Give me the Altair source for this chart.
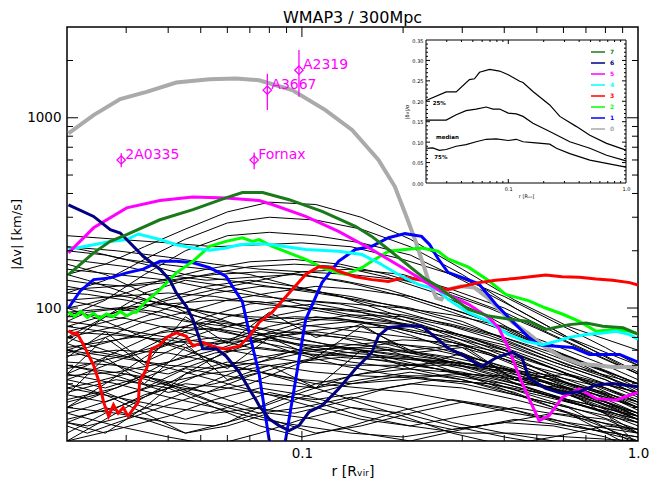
import altair as alt
import pandas as pd

W, H = 571, 414
FONT = "DejaVu Sans"
MAG = "#ff00ff"

# ---------------- coloured profiles (r in R_vir, |dv| in km/s) ----------------
gray_r = [0.0202, 0.024, 0.0288, 0.0345, 0.0423, 0.0531, 0.0637, 0.0746, 0.0936, 0.1175, 0.141, 0.169, 0.189,
          0.205, 0.217, 0.227, 0.2375, 0.251, 0.26, 0.272, 0.298, 0.326, 0.3575, 0.383, 0.42, 0.474, 0.531,
          0.595, 0.669, 0.752, 0.84, 1.0]
gray_v = [828, 1033, 1253, 1368, 1531, 1596, 1607, 1575, 1397, 1097, 863, 600, 435,
          300, 229, 180, 141, 113, 111, 125, 130, 128, 113, 100, 85, 73, 62,
          55, 51, 50, 49, 49]

blue_r = [0.0202, 0.0219, 0.024, 0.0269, 0.0301, 0.0337, 0.0378, 0.0423, 0.0474, 0.0531, 0.0594, 0.064, 0.0665,
          0.0697, 0.0746, 0.0798, 0.084, 0.0895, 0.0958, 0.1026, 0.1148, 0.1285, 0.1442, 0.1614, 0.181, 0.2027,
          0.227, 0.24, 0.254, 0.272, 0.299, 0.336, 0.377, 0.423, 0.474, 0.508, 0.57, 0.64, 0.717, 0.804, 0.882, 1.0]
blue_v = [100, 123, 141, 144, 153, 160, 176, 176, 173, 163, 147, 120, 108,
          74, 45, 20.5, 15, 20.5, 42, 87, 136, 176, 203, 211, 234, 246,
          238, 215, 182, 154, 145, 134, 105, 85, 70, 64, 63, 62, 57, 57, 57, 52]

green_r = [0.0202, 0.021, 0.022, 0.023, 0.024, 0.025, 0.0262, 0.0275, 0.0288, 0.0301, 0.0315, 0.0322, 0.0337,
           0.0378, 0.0423, 0.0474, 0.0531, 0.0594, 0.0665, 0.0713, 0.0746, 0.0816, 0.1026, 0.1175, 0.1346,
           0.1509, 0.1614, 0.181, 0.2027, 0.227, 0.254, 0.272, 0.313, 0.36, 0.404, 0.474, 0.531, 0.595, 0.669,
           0.751, 0.84, 0.945, 1.0]
green_v = [95, 90, 96, 89, 94, 88, 93, 90, 96, 91, 95, 95, 105,
           125, 153, 176, 211, 224, 234, 224, 229, 211, 180, 160, 150,
           163, 176, 199, 203, 207, 199, 181, 164, 139, 118, 109, 100, 93, 85,
           75.5, 77, 75.5, 73]

red_r = [0.0202, 0.0209, 0.0214, 0.0224, 0.024, 0.0249, 0.0257, 0.0266, 0.0275, 0.0284, 0.0294, 0.0304, 0.0315,
         0.0326, 0.0329, 0.0345, 0.0357, 0.0378, 0.0395, 0.0423, 0.0453, 0.0474, 0.0507, 0.0556, 0.0594, 0.0651,
         0.0697, 0.0746, 0.0816, 0.0916, 0.1026, 0.1123, 0.1229, 0.1285, 0.1442, 0.1614, 0.181, 0.2027, 0.227,
         0.254, 0.272, 0.3, 0.336, 0.377, 0.43, 0.531, 0.595, 0.669, 0.751, 0.84, 0.945, 1.0]
red_v = [76, 73, 74, 64, 50, 41, 32, 27, 31, 28, 30, 27, 29.5,
         32, 41, 48, 61, 64, 70, 74, 71, 63, 66, 62, 61, 63,
         71, 84, 95, 120, 150, 165, 163, 156, 146, 141, 138, 145, 140,
         128, 125, 130, 136, 140, 143, 149, 146, 145, 142, 140, 136, 132]

cyan_r = [0.0202, 0.024, 0.0269, 0.0301, 0.0326, 0.0378, 0.0423, 0.0474, 0.0531, 0.0594, 0.0651, 0.0746, 0.0816,
          0.1026, 0.1285, 0.1509, 0.169, 0.1936, 0.222, 0.233, 0.254, 0.272, 0.313, 0.36, 0.412, 0.463, 0.52,
          0.57, 0.624, 0.701, 0.786, 0.861, 0.945, 1.0]
cyan_v = [203, 215, 224, 229, 245, 229, 215, 207, 201, 207, 215, 218, 215,
          203, 199, 191, 173, 150, 133, 130, 125, 111, 94.5, 85, 72.5, 66.8, 64.2,
          66.8, 70.1, 72.5, 74, 75.5, 72.5, 68.5]

magenta_r = [0.0202, 0.024, 0.0301, 0.0378, 0.0473, 0.0594, 0.0651, 0.0746, 0.0816, 0.1026, 0.1285, 0.1614,
             0.2027, 0.254, 0.272, 0.313, 0.36, 0.385, 0.412, 0.442, 0.474, 0.508, 0.544, 0.596, 0.669, 0.751,
             0.861, 0.945, 1.0]
magenta_v = [195, 264, 336, 367, 383, 379, 374, 367, 350, 303, 253, 203,
             160, 125, 118, 104.6, 89, 78.7, 61.5, 44.4, 33.4, 25.6, 27.2, 34, 37.5, 33.4,
             32.8, 34.9, 36]

navy_r = [0.0202, 0.024, 0.0269, 0.0288, 0.0301, 0.0337, 0.0378, 0.0404, 0.0423, 0.0453, 0.0474, 0.0507, 0.0556,
          0.0594, 0.0651, 0.0697, 0.0729, 0.0746, 0.0798, 0.0855, 0.0916, 0.098, 0.105, 0.1148, 0.1285, 0.1442,
          0.1614, 0.169, 0.181, 0.2027, 0.227, 0.254, 0.272, 0.299, 0.343, 0.377, 0.423, 0.452, 0.474, 0.531,
          0.595, 0.669, 0.751, 0.84, 0.945, 1.0]
navy_v = [348, 303, 258, 248, 229, 187, 160, 141, 120, 102, 87, 61, 61,
          56, 46, 37.5, 33, 30.7, 26.2, 24.1, 22.7, 24.1, 28.4, 30.7, 37.5, 47.8,
          58.4, 71.3, 79, 80.5, 80.5, 68.5, 61.6, 56.8, 49.2, 54.6, 58.6, 54.6, 42.7, 37.8,
          35.5, 36.3, 39.4, 40.1, 39, 38.6]

dkgreen_r = [0.0202, 0.024, 0.0269, 0.0301, 0.0378, 0.0474, 0.0594, 0.0665, 0.0764, 0.0916, 0.1148, 0.1442,
             0.1614, 0.181, 0.2027, 0.227, 0.233, 0.254, 0.272, 0.313, 0.36, 0.423, 0.474, 0.531, 0.624, 0.701,
             0.786, 0.903, 1.0]
dkgreen_v = [150, 195, 224, 243, 291, 329, 379, 405, 405, 371, 322, 269,
             238, 203, 173, 147, 142, 130, 118, 98.4, 90.7, 87, 85, 77.1, 81.8, 83.5,
             80.2, 78.7, 73]

series_names = ["0", "1", "2", "3", "4", "5", "6", "7"]
series_colors = ["#aaaaaa", "#0000ff", "#00ff00", "#ff0000", "#00ffff", "#ff00ff", "#000080", "#1a7a1a"]
series_widths = [4, 3, 3, 3, 3, 3, 3, 3]
series_data = [(gray_r, gray_v), (blue_r, blue_v), (green_r, green_v), (red_r, red_v),
               (cyan_r, cyan_v), (magenta_r, magenta_v), (navy_r, navy_v), (dkgreen_r, dkgreen_v)]

# ---------------- thin black profiles ----------------
grid_a = [0.02, 0.026, 0.034, 0.045, 0.06, 0.08, 0.11, 0.15, 0.21, 0.3, 0.43, 0.62, 1.0]
black_a = [
    [150, 170, 210, 260, 320, 360, 350, 300, 230, 160, 110, 80, 60],
    [120, 140, 180, 230, 280, 300, 290, 260, 210, 150, 100, 70, 50],
    [90, 110, 150, 200, 240, 250, 240, 220, 190, 140, 100, 70, 45],
    [60, 70, 85, 95, 110, 120, 130, 125, 115, 95, 75, 55, 40],
    [45, 70, 50, 90, 65, 95, 70, 82, 58, 62, 42, 45, 30],
    [30, 40, 55, 75, 90, 100, 105, 95, 80, 65, 50, 38, 28],
    [25, 22, 30, 45, 60, 70, 75, 70, 60, 50, 42, 35, 25],
    [80, 75, 70, 60, 50, 45, 40, 38, 36, 32, 28, 25, 22],
    [110, 100, 95, 85, 80, 90, 100, 95, 85, 70, 55, 40, 32],
    [55, 75, 52, 65, 42, 50, 38, 60, 48, 58, 40, 38, 26],
    [200, 190, 170, 150, 140, 130, 120, 110, 100, 85, 65, 50, 40],
    [40, 35, 28, 22, 25, 32, 40, 45, 48, 42, 35, 30, 19],
    [70, 90, 110, 100, 85, 70, 60, 55, 50, 46, 40, 32, 26],
    [130, 120, 110, 100, 92, 85, 80, 75, 70, 62, 52, 44, 36],
    [35, 55, 40, 62, 48, 70, 55, 80, 60, 64, 42, 36, 22],
    [22, 28, 35, 40, 38, 35, 33, 36, 40, 38, 33, 28, 18],
    [170, 150, 120, 95, 80, 72, 66, 60, 55, 48, 40, 33, 27],
    [20, 26, 34, 45, 52, 50, 46, 44, 43, 40, 35, 30, 25],
    [100, 85, 70, 62, 68, 80, 90, 85, 72, 58, 45, 35, 28],
    [65, 90, 120, 140, 130, 115, 100, 90, 82, 72, 58, 45, 36],
    [35, 32, 38, 48, 44, 40, 38, 42, 46, 42, 36, 28, 20],
    [32, 36, 30, 26, 30, 36, 32, 27, 24, 27, 30, 27, 23],
    [42, 38, 44, 36, 30, 26, 22, 24, 28, 32, 29, 24, 21],
    [25, 30, 26, 22, 24, 28, 26, 22, 20, 23, 26, 24, 21],
    [70, 60, 52, 46, 40, 35, 30, 26, 24, 22, 22, 21, 20],
]
grid_b = [0.02, 0.023, 0.03, 0.038, 0.052, 0.07, 0.095, 0.13, 0.18, 0.25, 0.36, 0.5, 0.72, 1.0]
black_b = [
    [100, 105, 120, 140, 160, 175, 180, 170, 150, 125, 100, 78, 58, 45],
    [65, 60, 55, 62, 75, 85, 90, 88, 80, 70, 58, 46, 36, 28],
    [140, 135, 130, 135, 150, 165, 170, 165, 145, 120, 90, 65, 48, 36],
    [50, 48, 45, 40, 36, 40, 50, 60, 65, 62, 52, 42, 33, 26],
    [85, 95, 100, 95, 80, 70, 65, 62, 58, 54, 48, 42, 34, 28],
    [30, 33, 40, 50, 62, 72, 75, 70, 60, 50, 40, 32, 26, 22],
    [45, 50, 62, 75, 85, 80, 70, 62, 55, 48, 42, 36, 30, 25],
    [180, 175, 165, 150, 140, 145, 150, 140, 125, 105, 85, 65, 50, 40],
    [38, 40, 45, 42, 36, 30, 28, 32, 38, 42, 40, 35, 30, 26],
    [75, 80, 90, 110, 130, 140, 130, 115, 95, 80, 64, 52, 40, 32],
    [25, 24, 27, 32, 40, 50, 60, 65, 62, 54, 45, 37, 30, 24],
    [120, 118, 110, 100, 88, 80, 74, 70, 66, 60, 52, 44, 36, 30],
    [58, 62, 70, 80, 78, 70, 58, 50, 45, 42, 40, 36, 31, 27],
    [95, 92, 88, 80, 70, 62, 58, 56, 55, 52, 47, 40, 33, 27],
    [42, 46, 55, 68, 90, 105, 110, 105, 92, 76, 60, 48, 38, 30],
    [28, 30, 35, 40, 45, 48, 52, 55, 53, 48, 41, 34, 28, 23],
    [210, 200, 180, 170, 160, 150, 130, 115, 100, 85, 72, 58, 46, 38],
    [24, 22, 26, 30, 36, 44, 52, 58, 60, 56, 48, 40, 32, 26],
    [150, 140, 120, 105, 95, 90, 88, 86, 80, 70, 58, 46, 37, 30],
]
grid_c = [0.02, 0.028, 0.04, 0.055, 0.075, 0.1, 0.14, 0.2, 0.28, 0.4, 0.56, 0.8, 1.0]
black_c = [
    [240, 230, 220, 210, 215, 220, 210, 180, 150, 115, 85, 62, 50],
    [70, 80, 100, 120, 130, 125, 115, 100, 85, 70, 56, 44, 37],
    [52, 50, 45, 55, 68, 80, 85, 82, 74, 62, 50, 40, 34],
    [110, 115, 120, 115, 105, 100, 98, 92, 82, 70, 58, 46, 38],
    [33, 38, 48, 58, 62, 58, 52, 48, 46, 43, 38, 32, 27],
    [160, 150, 140, 125, 115, 110, 105, 100, 92, 80, 64, 50, 42],
    [48, 55, 65, 70, 66, 60, 56, 54, 52, 48, 42, 35, 29],
    [85, 78, 70, 65, 68, 75, 80, 78, 70, 60, 48, 38, 32],
    [26, 30, 38, 48, 55, 60, 62, 60, 55, 48, 40, 32, 27],
    [62, 68, 75, 78, 72, 64, 58, 55, 52, 48, 44, 38, 33],
    [125, 130, 140, 150, 155, 150, 135, 115, 95, 76, 60, 47, 40],
    [38, 34, 30, 28, 30, 36, 44, 50, 52, 48, 40, 32, 27],
    [95, 100, 105, 110, 108, 100, 90, 82, 74, 64, 52, 42, 35],
    [56, 60, 58, 52, 46, 42, 40, 42, 45, 44, 40, 34, 30],
    [210, 200, 185, 170, 160, 155, 150, 140, 120, 95, 72, 54, 45],
    [44, 46, 52, 60, 72, 84, 92, 90, 80, 66, 52, 42, 35],
    [75, 72, 68, 62, 56, 52, 50, 50, 50, 47, 42, 36, 31],
    [30, 28, 25, 24, 28, 34, 40, 44, 44, 40, 34, 28, 19],
    [80, 95, 110, 125, 140, 155, 160, 150, 125, 100, 75, 56, 46],
    [60, 55, 50, 48, 52, 58, 64, 68, 66, 58, 48, 38, 32],
    [45, 40, 34, 30, 26, 24, 22, 21, 23, 25, 24, 21, 18],
    [28, 24, 21, 19, 22, 26, 30, 28, 24, 21, 19, 18, 17],
    [60, 50, 40, 32, 28, 30, 34, 30, 25, 22, 20, 19, 18],
    [36, 42, 38, 30, 24, 21, 24, 29, 33, 30, 26, 22, 20],
    [20, 23, 27, 33, 38, 35, 30, 26, 23, 25, 28, 26, 22],
    [50, 44, 36, 40, 46, 40, 33, 27, 22, 19, 21, 24, 23],
]

# ---------------- observed clusters ----------------
obs_name = ["2A0335", "Fornax", "A3667", "A2319"]
obs_r = [0.029, 0.0721, 0.0789, 0.098]
obs_v = [600, 600, 1397, 1779]
obs_lo = [550, 537, 1097, 1289]
obs_hi = [651, 656, 1705, 2268]

# ---------------- inset: |dv|/sigma percentiles ----------------
p25_r = [0.02, 0.0297, 0.0361, 0.0468, 0.0516, 0.057, 0.0693, 0.0844, 0.1, 0.125, 0.1334, 0.162, 0.225, 0.274,
         0.38, 0.493, 0.684, 1.0]
p25_v = [0.202, 0.223, 0.223, 0.253, 0.255, 0.271, 0.278, 0.274, 0.265, 0.249, 0.246, 0.224, 0.191, 0.163,
         0.138, 0.117, 0.097, 0.0805]
med_r = [0.02, 0.0297, 0.0361, 0.0438, 0.0533, 0.065, 0.074, 0.0844, 0.1, 0.117, 0.1334, 0.162, 0.225, 0.333,
         0.493, 0.684, 1.0]
med_v = [0.154, 0.154, 0.167, 0.177, 0.181, 0.186, 0.181, 0.181, 0.171, 0.169, 0.163, 0.146, 0.126, 0.101,
         0.085, 0.068, 0.054]
p75_r = [0.02, 0.0228, 0.026, 0.0297, 0.0361, 0.0438, 0.0533, 0.065, 0.079, 0.1, 0.117, 0.1334, 0.162, 0.225,
         0.2565, 0.333, 0.493, 0.684, 1.0]
p75_v = [0.085, 0.086, 0.080, 0.082, 0.090, 0.094, 0.101, 0.107, 0.108, 0.104, 0.107, 0.101, 0.099, 0.095,
         0.085, 0.072, 0.056, 0.048, 0.039]
inset_lab = ["25%", "median", "75%"]
inset_lab_r = [0.0228, 0.0243, 0.0235]
inset_lab_v = [0.195, 0.113, 0.064]

# ---------------- tick values ----------------
x_minor = [0.03, 0.04, 0.05, 0.06, 0.07, 0.08, 0.09, 0.2, 0.3, 0.4, 0.5, 0.6, 0.7, 0.8, 0.9]
x_major = [0.1]
y_minor = [30, 40, 50, 60, 70, 80, 90, 200, 300, 400, 500, 600, 700, 800, 900, 2000]
y_major = [100, 1000]
iy_minor = [round(0.01 * k, 2) for k in range(1, 35) if k % 5 != 0]
iy_major = [0.05, 0.10, 0.15, 0.20, 0.25, 0.30]
ix_minor = [0.03, 0.04, 0.05, 0.06, 0.07, 0.08, 0.09, 0.2, 0.3, 0.4, 0.5, 0.6, 0.7, 0.8, 0.9]

# ---------------- build tables ----------------
rows = []
for name, (rs, vs) in zip(series_names, series_data):
    for r, v in zip(rs, vs):
        rows.append({"s": name, "r": r, "v": v})
colored = pd.DataFrame(rows)

rows = []
lid = 0
for grid, lines in ((grid_a, black_a), (grid_b, black_b), (grid_c, black_c)):
    for vals in lines:
        for r, v in zip(grid, vals):
            rows.append({"id": lid, "r": r, "v": v})
        lid += 1
black = pd.DataFrame(rows)

obs = pd.DataFrame({"name": obs_name, "r": obs_r, "v": obs_v, "lo": obs_lo, "hi": obs_hi})

rows = []
for q, rs, vs in (("25", p25_r, p25_v), ("50", med_r, med_v), ("75", p75_r, p75_v)):
    for r, v in zip(rs, vs):
        rows.append({"q": q, "r": r, "v": v})
inset_df = pd.DataFrame(rows)
inset_labels = pd.DataFrame({"t": inset_lab, "r": inset_lab_r, "v": inset_lab_v})

# ---------------- scales ----------------
xs = alt.Scale(type="log", domain=[0.02, 1.0], nice=False)
ys = alt.Scale(type="log", domain=[20, 3000], nice=False)
IX0, IX1, IY0, IY1 = 359, 559, 156, 13
ixs = alt.Scale(type="log", domain=[0.02, 1.0], nice=False, range=[IX0, IX1])
iys = alt.Scale(domain=[0, 0.35], nice=False, zero=False, range=[IY0, IY1])


def X(f="r"):
    return alt.X(f"{f}:Q", scale=xs, axis=None)


def Y(f="v"):
    return alt.Y(f"{f}:Q", scale=ys, axis=None)


axis_common = dict(ticks=False, domain=False, grid=False, labelFont=FONT, titleFont=FONT,
                   titleFontWeight="normal", labelColor="black", titleColor="black", labelFlush=False)

black_layer = alt.Chart(black).mark_line(color="black", strokeWidth=1, clip=True).encode(
    x=alt.X("r:Q", scale=xs, axis=alt.Axis(orient="bottom", values=[0.1, 1.0], format=".1f",
                                            labelFontSize=13.5, labelPadding=5, title="r  [Rᵥᵢᵣ]",
                                            titleFontSize=14, titlePadding=5, **axis_common)),
    y=alt.Y("v:Q", scale=ys, axis=alt.Axis(orient="left", values=[100, 1000], format="d",
                                            labelFontSize=13.5, labelPadding=6, title="|Δv| [km/s]",
                                            titleFontSize=13, titlePadding=3, **axis_common)),
    detail="id:N",
)

label_expr = " : ".join(
    [f"datum.label == '{n}' ? '{c}'" for n, c in zip(series_names, series_colors)]
) + " : 'black'"
legend_order = series_names[::-1]
legend_colors = series_colors[::-1]
color_enc = alt.Color("s:N", scale=alt.Scale(domain=legend_order, range=legend_colors),
                      legend=alt.Legend(orient="none", legendX=523, legendY=17, title=None,
                                        symbolType="stroke", symbolSize=196, symbolStrokeWidth=1.5,
                                        labelFontSize=6, labelFont=FONT, labelFontWeight="bold",
                                        rowPadding=-3.7, labelOffset=4, padding=0,
                                        labelColor={"expr": label_expr}))

colored_layers = []
for name, w in zip(series_names, series_widths):
    colored_layers.append(
        alt.Chart(colored).transform_filter(alt.datum.s == name)
        .mark_line(strokeWidth=w, clip=True)
        .encode(x=X(), y=Y(), color=color_enc)
    )

err = alt.Chart(obs).mark_rule(color=MAG, strokeWidth=1.3).encode(x=X(), y=Y("lo"), y2="hi:Q")
pts = alt.Chart(obs).mark_point(shape="diamond", filled=False, size=70, color=MAG, strokeWidth=1.3,
                                opacity=1).encode(x=X(), y=Y())
txt = alt.Chart(obs).mark_text(align="left", baseline="alphabetic", dx=4, dy=-1, fontSize=14, font=FONT,
                               color=MAG).encode(x=X(), y=Y(), text="name:N")


def xticks(vals, length, scale, y0, inward):
    df = pd.DataFrame({"r": vals})
    return alt.Chart(df).mark_rule(color="black", strokeWidth=1).encode(
        x=alt.X("r:Q", scale=scale, axis=None), y=alt.value(y0), y2=alt.value(y0 + inward * length))


def yticks(vals, length, scale, x0, inward):
    df = pd.DataFrame({"v": vals})
    return alt.Chart(df).mark_rule(color="black", strokeWidth=1).encode(
        y=alt.Y("v:Q", scale=scale, axis=None), x=alt.value(x0), x2=alt.value(x0 + inward * length))


main_ticks = [
    xticks(x_minor, 6, xs, H, -1), xticks(x_major, 10, xs, H, -1),
    xticks(x_minor, 6, xs, 0, 1), xticks(x_major, 10, xs, 0, 1),
    yticks(y_minor, 6, ys, 0, 1), yticks(y_major, 11, ys, 0, 1),
    yticks(y_minor, 6, ys, W, -1), yticks(y_major, 11, ys, W, -1),
]

# ---------------- inset ----------------
frame_df = pd.DataFrame({"r": [0.02], "r2": [1.0], "v": [0.0], "v2": [0.35]})
frame = alt.Chart(frame_df).mark_rect(fill="white", stroke="black", strokeWidth=1).encode(
    x=alt.X("r:Q", scale=ixs, axis=alt.Axis(orient="bottom", offset=-(H - IY0), values=[0.1, 1.0],
                                             format=".1f", labelFontSize=5, labelPadding=3,
                                             title="r [Rᵥᵢᵣ]", titleFontSize=5, titlePadding=2,
                                             **axis_common)),
    x2="r2:Q",
    y=alt.Y("v:Q", scale=iys, axis=alt.Axis(orient="left", offset=-IX0,
                                             values=[0, 0.05, 0.1, 0.15, 0.2, 0.25, 0.3, 0.35],
                                             format=".2f", labelFontSize=5, labelPadding=3,
                                             title="|δv|/σ", titleFontSize=5, titlePadding=2,
                                             **axis_common)),
    y2="v2:Q",
)
inset_lines = alt.Chart(inset_df).mark_line(color="black", strokeWidth=1.2).encode(
    x=alt.X("r:Q", scale=ixs, axis=None), y=alt.Y("v:Q", scale=iys, axis=None), detail="q:N")
inset_text = alt.Chart(inset_labels).mark_text(align="left", baseline="middle", fontSize=5.5, font=FONT,
                                               fontWeight="bold", color="black").encode(
    x=alt.X("r:Q", scale=ixs, axis=None), y=alt.Y("v:Q", scale=iys, axis=None), text="t:N")

inset_ticks = [
    xticks(ix_minor, 2, ixs, IY0, -1), xticks([0.1], 4, ixs, IY0, -1),
    xticks(ix_minor, 2, ixs, IY1, 1), xticks([0.1], 4, ixs, IY1, 1),
    yticks(iy_minor, 2, iys, IX0, 1), yticks(iy_major, 4, iys, IX0, 1),
    yticks(iy_minor, 2, iys, IX1, -1), yticks(iy_major, 4, iys, IX1, -1),
]

chart = alt.layer(
    black_layer, *colored_layers, err, pts, txt, *main_ticks,
    frame, inset_lines, inset_text, *inset_ticks,
).resolve_scale(x="independent", y="independent").properties(
    width=W, height=H,
    autosize=alt.AutoSizeParams(type="none"),
    padding={"left": 59, "top": 19, "right": 11, "bottom": 40},
    title=alt.Title("WMAP3 / 300Mpc", fontSize=16, fontWeight="normal", font=FONT, offset=1,
                    frame="group", color="black"),
).configure_view(stroke="black", strokeWidth=1.5)

chart.save("out.html", embed_options={"renderer": "svg", "actions": False})
